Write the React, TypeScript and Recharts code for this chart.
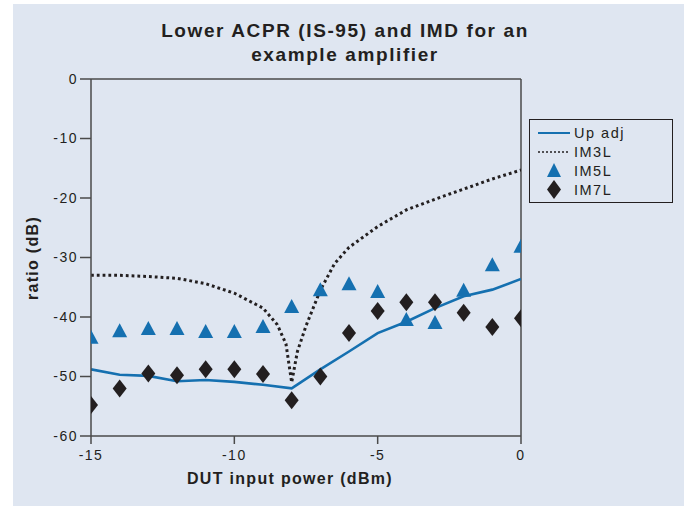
import { ComposedChart, Line, Scatter, XAxis, YAxis, ReferenceLine } from 'recharts'

// input power steps (dBm)
const powers = [-15, -14, -13, -12, -11, -10, -9, -8, -7, -6, -5, -4, -3, -2, -1, 0]
const upAdj = [-48.8, -49.7, -49.9, -50.8, -50.6, -50.9, -51.4, -52, -48.8, -45.8, -42.7, -40.8, -38.5, -36.5, -35.4, -33.6]
const im5L = [-43.5, -42.4, -42, -42, -42.5, -42.5, -41.7, -38.3, -35.5, -34.5, -35.8, -40.5, -41, -35.6, -31.3, -28.2]
const im7L = [-54.8, -52, -49.5, -49.8, -48.8, -48.8, -49.6, -54, -50, -42.7, -39, -37.5, -37.5, -39.3, -41.7, -40.2]

// IM3L is sampled more finely around the null near -8 dBm
const im3Power = [-15, -14, -13, -12, -11, -10, -9, -8.5, -8.2, -8, -7.8, -7.5, -7, -6.5, -6, -5, -4, -3, -2, -1, 0]
const im3L = [-33, -33, -33.2, -33.5, -34.4, -36, -38.5, -41.3, -44.5, -51, -45.8, -41.5, -35.5, -31, -28.3, -24.8, -22, -20.2, -18.5, -16.8, -15.3]

const xTicks = [-15, -10, -5, 0]
const yTicks = [-60, -50, -40, -30, -20, -10, 0]

const upAdjData = powers.map((x, i) => ({ x, y: upAdj[i] }))
const im5Data = powers.map((x, i) => ({ x, y: im5L[i] }))
const im7Data = powers.map((x, i) => ({ x, y: im7L[i] }))
const im3Data = im3Power.map((x, i) => ({ x, y: im3L[i] }))

const FONT = '"Liberation Sans", Arial, Helvetica, sans-serif'
const BLUE = '#1570b0'
const DARK = '#231f20'
const AXIS = '#4a4a4a'

const tickStyle = { fontSize: 14, fill: DARK, fontFamily: FONT, letterSpacing: 1.5 }

const Triangle = (props: any) => {
  const { cx, cy } = props
  if (cx == null || cy == null) return null
  return <polygon points={`${cx},${cy - 8} ${cx + 7.5},${cy + 6} ${cx - 7.5},${cy + 6}`} fill={BLUE} />
}

const Diamond = (props: any) => {
  const { cx, cy } = props
  if (cx == null || cy == null) return null
  return <polygon points={`${cx},${cy - 9} ${cx + 7},${cy} ${cx},${cy + 9} ${cx - 7},${cy}`} fill={DARK} />
}

function LegendBox() {
  const row = { display: 'flex', alignItems: 'center', height: 19 }
  const label = { fontSize: 14.5, color: DARK, marginLeft: 4, letterSpacing: 1.5 }
  return (
    <div
      style={{
        position: 'absolute', left: 529, top: 119, width: 142, height: 79,
        border: `1.5px solid ${DARK}`, fontFamily: FONT, paddingTop: 3, boxSizing: 'content-box',
      }}
    >
      <div style={row}>
        <svg width={40} height={19}><line x1={8} x2={40} y1={10} y2={10} stroke={BLUE} strokeWidth={2} /></svg>
        <span style={label}>Up adj</span>
      </div>
      <div style={row}>
        <svg width={40} height={19}><line x1={8} x2={40} y1={10} y2={10} stroke={DARK} strokeWidth={1.5} strokeDasharray="2 2" /></svg>
        <span style={label}>IM3L</span>
      </div>
      <div style={row}>
        <svg width={40} height={19}><polygon points="24,2 31,16 17,16" fill={BLUE} /></svg>
        <span style={label}>IM5L</span>
      </div>
      <div style={row}>
        <svg width={40} height={19}><polygon points="24,0 31,9.5 24,19 17,9.5" fill={DARK} /></svg>
        <span style={label}>IM7L</span>
      </div>
    </div>
  )
}

export default function App() {
  return (
    <div style={{ position: 'absolute', left: 0, top: 0, width: 684, height: 506, background: '#fff', overflow: 'hidden' }}>
      <div style={{ position: 'absolute', left: 13, top: 4, width: 671, height: 502, background: '#dfe6f1' }} />
      <div
        style={{
          position: 'absolute', left: 0, top: 19, width: 690, textAlign: 'center',
          fontFamily: FONT, fontWeight: 'bold', fontSize: 19, lineHeight: '24px', color: DARK, letterSpacing: 1.6,
        }}
      >
        Lower ACPR (IS-95) and IMD for an
        <br />
        example amplifier
      </div>
      <ComposedChart
        width={684}
        height={506}
        margin={{ top: 79, right: 163, bottom: 40, left: 31 }}
        style={{ position: 'absolute', left: 0, top: 0 }}
      >
        <XAxis
          dataKey="x"
          type="number"
          domain={[-15, 0]}
          ticks={xTicks}
          allowDataOverflow
          height={30}
          stroke={AXIS}
          strokeWidth={1.5}
          tickSize={8}
          tickMargin={6}
          tick={tickStyle}
        />
        <YAxis
          dataKey="y"
          type="number"
          domain={[-60, 0]}
          ticks={yTicks}
          width={60}
          stroke={AXIS}
          strokeWidth={1.5}
          tickSize={11}
          tickMargin={2}
          tick={tickStyle}
        />
        <ReferenceLine y={0} stroke={AXIS} strokeWidth={1.5} />
        <ReferenceLine x={0} stroke={AXIS} strokeWidth={1.5} />
        <Line
          data={im3Data}
          dataKey="y"
          type="linear"
          stroke={DARK}
          strokeWidth={3}
          strokeDasharray="2.8 3"
          dot={false}
          isAnimationActive={false}
        />
        <Line
          data={upAdjData}
          dataKey="y"
          type="linear"
          stroke={BLUE}
          strokeWidth={2.6}
          dot={false}
          isAnimationActive={false}
        />
        <Scatter data={im5Data} dataKey="y" shape={Triangle} isAnimationActive={false} />
        <Scatter data={im7Data} dataKey="y" shape={Diamond} isAnimationActive={false} />
      </ComposedChart>
      <div
        style={{
          position: 'absolute', left: 140, top: 470, width: 300, textAlign: 'center',
          fontFamily: FONT, fontWeight: 'bold', fontSize: 16, color: DARK, letterSpacing: 1.3,
        }}
      >
        DUT input power (dBm)
      </div>
      <div
        style={{
          position: 'absolute', left: 33, top: 258, width: 120, marginLeft: -60, marginTop: -10,
          textAlign: 'center', transform: 'rotate(-90deg)', lineHeight: '20px',
          fontFamily: FONT, fontWeight: 'bold', fontSize: 16, color: DARK, letterSpacing: 1.3,
        }}
      >
        ratio (dB)
      </div>
      <LegendBox />
    </div>
  )
}
